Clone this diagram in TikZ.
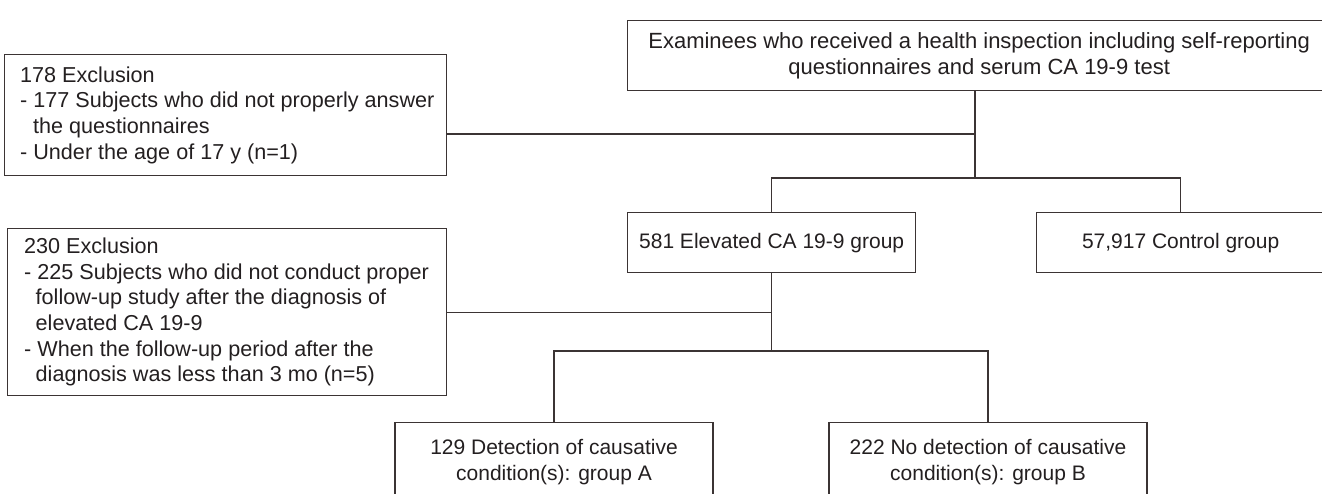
\documentclass[tikz,border=0pt]{standalone}
\usepackage{fontspec}
\setmainfont{Liberation Sans}
\definecolor{ink}{HTML}{231F20}
\definecolor{edge}{HTML}{3B3434}
\begin{document}
\begin{tikzpicture}[x=1pt,y=-1pt,
  box/.style={draw=edge, line width=1.3pt, rectangle, inner sep=0pt},
  txt/.style={text=ink, font=\fontsize{21}{25.6}\selectfont},
  bigtxt/.style={text=ink, font=\fontsize{22}{26}\selectfont},
  extxt/.style={text=ink, font=\fontsize{21.6}{25.6}\selectfont, align=left, anchor=west, inner sep=0pt},
  cbox/.style={box, txt, align=center},
  link/.style={draw=edge, line width=1.3pt}]
\useasboundingbox (0,0) rectangle (1322,493);
\clip (0,0) rectangle (1322,493);
% boxes
\node[cbox, bigtxt, anchor=north west, minimum width=703pt, minimum height=70pt] (top) at (627,20)
  {Examinees who received a health inspection including self-reporting\\questionnaires and serum CA 19-9 test};
\node[box, anchor=north west, minimum width=442pt, minimum height=121pt] (ex1) at (4,54) {};
\node[extxt] (ex1t) at ([xshift=16pt]ex1.west)
  {178 Exclusion\\- 177 Subjects who did not properly answer\\\hspace*{13pt}the questionnaires\\- Under the age of 17 y (n=1)};
\node[box, anchor=north west, minimum width=439pt, minimum height=167pt] (ex2) at (7,228) {};
\node[extxt] (ex2t) at ([xshift=17pt]ex2.west)
  {230 Exclusion\\- 225 Subjects who did not conduct proper\\\hspace*{11.5pt}follow-up study after the diagnosis of\\\hspace*{11.5pt}elevated CA 19-9\\- When the follow-up period after the\\\hspace*{11.5pt}diagnosis was less than 3 mo (n=5)};
\node[cbox, anchor=north west, minimum width=288pt, minimum height=60pt] (elev) at (627,212) {581 Elevated CA 19-9 group};
\node[cbox, anchor=north west, minimum width=288pt, minimum height=60pt] (ctrl) at (1036,212) {57,917 Control group};
\node[cbox, anchor=north, minimum width=318pt, inner ysep=17pt] (gA) at (554,422) {129 Detection of causative\\condition(s): group A};
\node[cbox, anchor=north, minimum width=318pt, inner ysep=17pt] (gB) at (988,422) {222 No detection of causative\\condition(s): group B};
% junctions
\coordinate (j1) at (975,134);
\coordinate (j2) at (975,178);
\coordinate (j4) at (771,351);
% connectors
\draw[link] (top.south -| j1) -- (j2);
\draw[link] (ex1.east |- j1) -- (j1);
\draw[link] (elev.north) -- (elev.north |- j2) -- (ctrl.north |- j2) -- (ctrl.north);
\draw[link] (elev.south) -- (elev.south |- j4);
\draw[link] (ex2.east) -- (ex2.east -| elev.south);
\draw[link] (gA.north) -- (gA.north |- j4) -- (gB.north |- j4) -- (gB.north);
\end{tikzpicture}
\end{document}
